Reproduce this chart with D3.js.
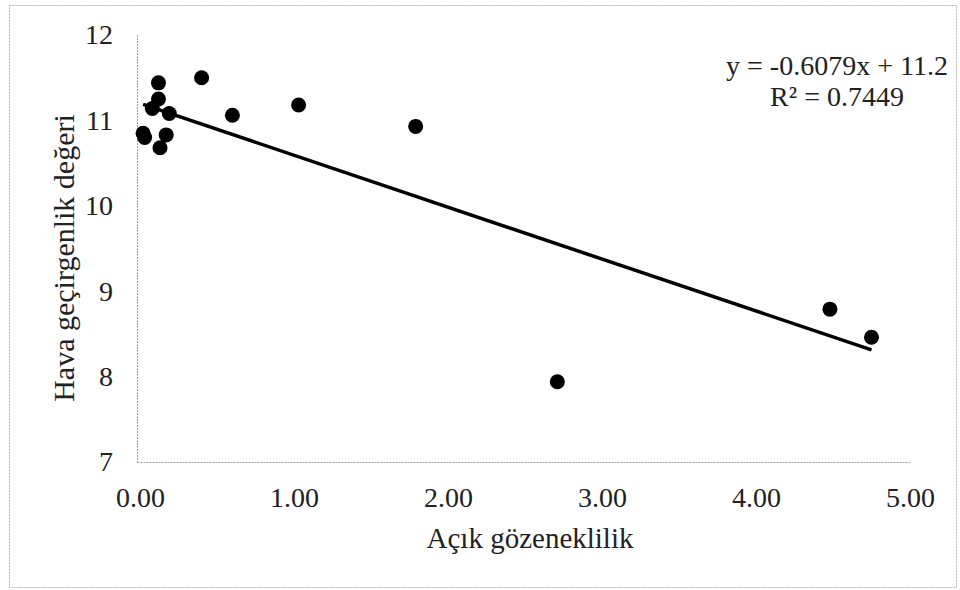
<!DOCTYPE html>
<html>
<head>
<meta charset="utf-8">
<script src="https://cdn.jsdelivr.net/npm/d3@7"></script>
<style>
  body { margin: 0; background: #fff; }
  text { font-family: "Liberation Serif", "Times New Roman", serif; fill: #222; }
</style>
</head>
<body>
<svg id="graph"></svg>
<script>
// values
const xValues = [0.02, 0.03, 0.08, 0.12, 0.12, 0.13, 0.17, 0.19, 0.40, 0.60, 1.03, 1.79, 2.71, 4.48, 4.75];
const yValues = [10.85, 10.80, 11.14, 11.25, 11.44, 10.68, 10.83, 11.08, 11.50, 11.06, 11.18, 10.93, 7.94, 8.79, 8.46];
const xTicks = [0, 1, 2, 3, 4, 5];
const yTicks = [7, 8, 9, 10, 11, 12];
const slope = -0.6079;
const intercept = 11.2;
const eqLines = ["y = -0.6079x + 11.2", "R² = 0.7449"];

const svgWidth = 960;
const svgHeight = 590;
const svg = d3.select('#graph')
    .attr("width", svgWidth)
    .attr("height", svgHeight);

// outer frame
svg.append("rect")
    .attr("x", 9.5).attr("y", 5.5)
    .attr("width", 947).attr("height", 582)
    .attr("fill", "none")
    .attr("stroke", "#b5b5b5")
    .attr("stroke-dasharray", "2,1");

const x = d3.scaleLinear().domain([0, 5]).range([140, 910]);
const y = d3.scaleLinear().domain([7, 12]).range([462, 35]);

// axes lines
svg.append("line")
    .attr("x1", 137.5).attr("x2", 137.5)
    .attr("y1", y(12)).attr("y2", 462.5)
    .attr("stroke", "#a0a0a0").attr("stroke-dasharray", "2,1");
svg.append("line")
    .attr("x1", 137.5).attr("x2", 910)
    .attr("y1", 462.5).attr("y2", 462.5)
    .attr("stroke", "#a0a0a0").attr("stroke-dasharray", "2,1");

const xAxis = svg.append("g")
    .attr("transform", "translate(0,497)")
    .call(d3.axisBottom(x).tickValues(xTicks).tickFormat(d3.format(".2f")).tickSize(0));
xAxis.select(".domain").remove();
xAxis.selectAll("text")
    .attr("font-size", 28)
    .attr("font-family", "Liberation Serif")
    .attr("fill", "#222")
    .attr("dy", "0.35em")
    .attr("y", 0);

const yAxis = svg.append("g")
    .attr("transform", "translate(113,0)")
    .call(d3.axisLeft(y).tickValues(yTicks).tickFormat(d3.format("d")).tickSize(0));
yAxis.select(".domain").remove();
yAxis.selectAll("text")
    .attr("font-size", 28)
    .attr("font-family", "Liberation Serif")
    .attr("fill", "#222")
    .attr("x", 0);

// trendline
const xMin = d3.min(xValues), xMax = d3.max(xValues);
svg.append("line")
    .attr("x1", x(xMin)).attr("y1", y(slope * xMin + intercept))
    .attr("x2", x(xMax)).attr("y2", y(slope * xMax + intercept))
    .attr("stroke", "#000")
    .attr("stroke-width", 3.5);

// points
svg.selectAll("circle")
    .data(xValues)
    .enter()
    .append("circle")
    .attr("cx", d => x(d))
    .attr("cy", (d, i) => y(yValues[i]))
    .attr("r", 7.5)
    .attr("fill", "#000");

// equation
svg.selectAll(".eq")
    .data(eqLines)
    .enter()
    .append("text")
    .attr("class", "eq")
    .attr("x", 837)
    .attr("y", (d, i) => 75 + i * 31)
    .attr("text-anchor", "middle")
    .attr("font-size", 28)
    .text(d => d);

// axis titles
svg.append("text")
    .attr("x", 530).attr("y", 548)
    .attr("text-anchor", "middle")
    .attr("font-size", 29)
    .text("Açık gözeneklilik");

svg.append("text")
    .attr("transform", "translate(74,258) rotate(-90)")
    .attr("text-anchor", "middle")
    .attr("font-size", 30)
    .text("Hava geçirgenlik değeri");
</script>
</body>
</html>
